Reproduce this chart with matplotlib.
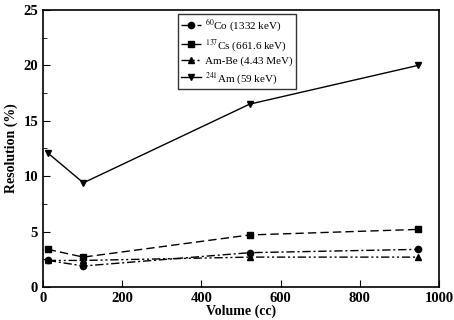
import matplotlib
matplotlib.use("Agg")
import matplotlib.pyplot as plt
from matplotlib.ticker import MultipleLocator

plt.rcParams['font.family'] = ['Liberation Serif', 'DejaVu Serif']
plt.rcParams['mathtext.fontset'] = 'stix'

volume = [12, 102, 522, 948]
co60 = [2.4, 1.9, 3.1, 3.4]
cs137 = [3.4, 2.7, 4.7, 5.2]
ambe = [2.4, 2.4, 2.7, 2.7]
am241 = [12.1, 9.4, 16.5, 20.0]

labels = [r'$^{60}$Co (1332 keV)', r'$^{137}$Cs (661.6 keV)', 'Am-Be (4.43 MeV)', r'$^{241}$Am (59 keV)']

fig = plt.figure(figsize=(4.54, 3.2), dpi=100)
ax = fig.add_axes([0.0947, 0.103, 0.872, 0.866])

ax.plot(volume, co60, color='black', lw=1, ls=(0, (6, 2, 1.5, 2)), marker='o', ms=4.5, label=labels[0])
ax.plot(volume, cs137, color='black', lw=1, ls=(0, (6, 3)), marker='s', ms=4.5, label=labels[1])
ax.plot(volume, ambe, color='black', lw=1, ls=(0, (6, 2, 1.5, 2, 1.5, 2)), marker='^', ms=4.5, label=labels[2])
ax.plot(volume, am241, color='black', lw=1, ls='-', marker='v', ms=4.5, label=labels[3])

ax.set_xlim(0, 1000)
ax.set_ylim(0, 25)
ax.xaxis.set_major_locator(MultipleLocator(200))
ax.yaxis.set_major_locator(MultipleLocator(5))
ax.yaxis.set_minor_locator(MultipleLocator(2.5))
ax.tick_params(which='both', direction='in', labelsize=10.5)
ax.tick_params(which='major', length=5)
ax.tick_params(which='minor', length=3)
for lbl in ax.get_xticklabels() + ax.get_yticklabels():
    lbl.set_fontweight('bold')
for s in ax.spines.values():
    s.set_linewidth(1.2)

ax.set_xlabel('Volume (cc)', fontsize=10, fontweight='bold', labelpad=0)
ax.set_ylabel('Resolution (%)', fontsize=10, fontweight='bold', labelpad=4)

leg = ax.legend(loc='upper center', bbox_to_anchor=(0.49, 0.995), fontsize=8, frameon=True,
                fancybox=False, edgecolor='black', handlelength=1.8, handletextpad=0.3,
                borderpad=0.35, labelspacing=0.3, borderaxespad=0.2)
leg.get_frame().set_linewidth(1.0)

fig.savefig('out.png', dpi=100)
